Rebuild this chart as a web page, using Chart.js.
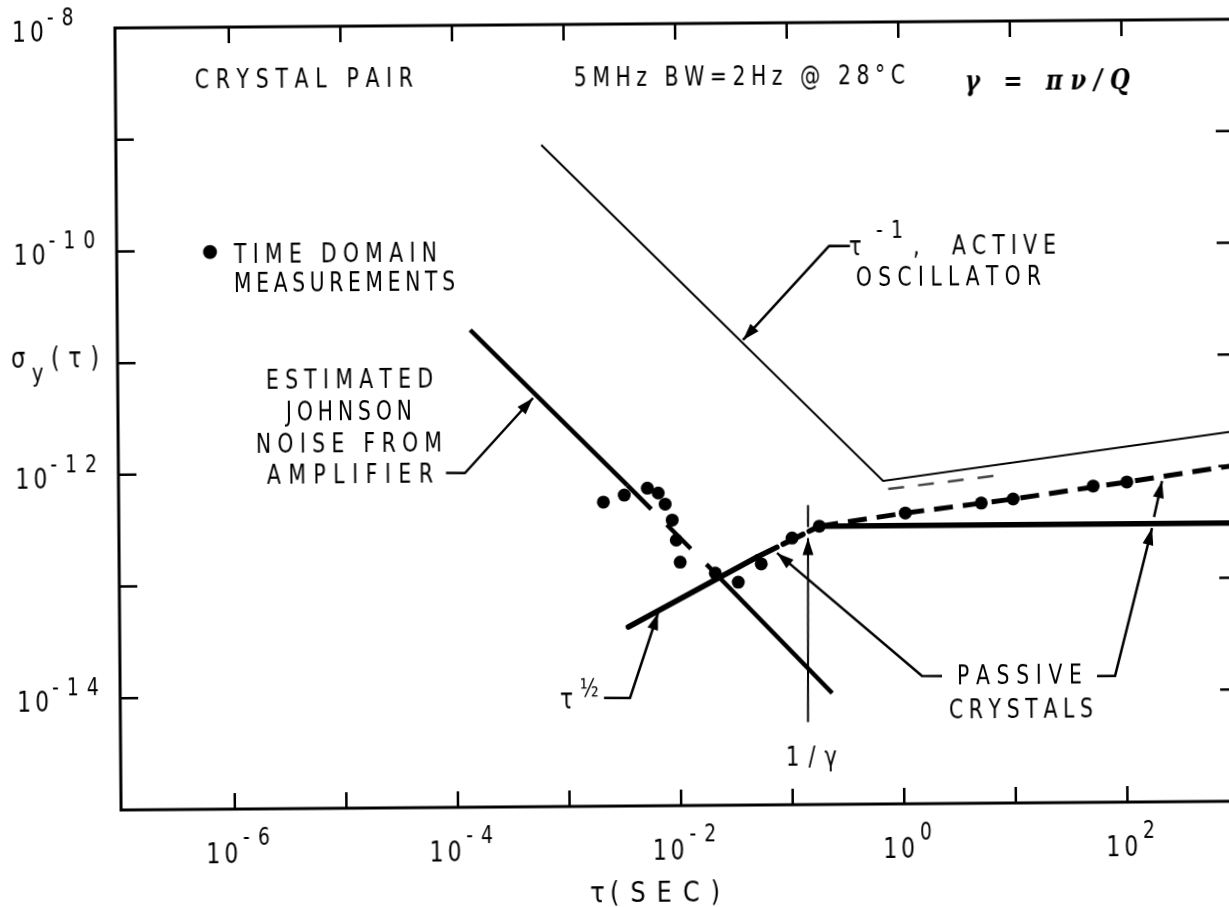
<!DOCTYPE html>
<html><head><meta charset="utf-8">
<script src="https://cdn.jsdelivr.net/npm/chart.js@4.4.0/dist/chart.umd.min.js"></script>
<style>
html,body{margin:0;padding:0;background:#fff;overflow:hidden;width:1229px;height:907px;}
#wrap{position:absolute;left:0;top:0;width:1260px;height:930px;transform-origin:118px 420px;transform:rotate(-0.45deg);}
canvas{display:block;}
</style></head><body>
<div id="wrap"><canvas id="c" width="1260" height="930"></canvas></div>
<script>
// ---------------- DATA (tau in seconds, sigma_y(tau)) ----------------
const activeTau   = [6.2e-4, 0.68, 1000];
const activeSigma = [8.4e-10, 7.8e-13, 2.06e-12];

const johnsonTau   = [1.39e-4, 3.46e-3, 2.01e-2, 0.23];
const johnsonSigma = [1.87e-11, 7.46e-13, 1.25e-13, 9.9e-15];

const sqrtTau   = [3.46e-3, 5.0e-2, 0.181];
const sqrtSigma = [4.0e-14, 1.66e-13, 3.1e-13];

const flatTau   = [0.181, 1000];
const flatSigma = [3.1e-13, 3.1e-13];

const passiveTau   = [0.181, 1.07, 9.93, 104, 1000];
const passiveSigma = [3.1e-13, 4.01e-13, 5.26e-13, 7.33e-13, 1.02e-12];

const erasedTau   = [0.755, 7.71];
const erasedSigma = [6.59e-13, 8.63e-13];

const measTau   = [2.11e-3, 3.25e-3, 5.24e-3, 6.55e-3, 7.55e-3, 8.71e-3, 9.44e-3, 1.02e-2,
                   2.10e-2, 3.37e-2, 5.43e-2, 0.103, 0.181, 1.07, 5.14, 9.93, 51.9, 104];
const measSigma = [5.27e-13, 6.07e-13, 6.98e-13, 6.30e-13, 5.01e-13, 3.60e-13, 2.38e-13, 1.51e-13,
                   1.20e-13, 9.9e-14, 1.44e-13, 2.44e-13, 3.10e-13, 4.01e-13, 4.86e-13, 5.26e-13, 6.78e-13, 7.33e-13];

const xTickExp  = [-6, -5, -4, -3, -2, -1, 0, 1, 2];
const xLabelExp = [-6, -4, -2, 0, 2];
const yTickExp  = [-14, -13, -12, -11, -10, -9];
const yLabelExp = [-8, -10, -12, -14];

const pts = (xs, ys) => xs.map((x, i) => ({x, y: ys[i]}));

// ---------------- helpers ----------------
const K = Math.tan(0.45 * Math.PI / 180), OX = 118, OY = 420;
function U(x, y) { return [x - (y - OY) * K, y + (x - OX) * K]; }
const FAM = "'DejaVu Sans', 'Noto Sans', sans-serif";
const TS = 26; // annotation text size

function txt(ctx, s, x, y, o) {
  o = o || {};
  const size = o.size || TS, sx = o.sx || 0.78;
  ctx.save();
  ctx.font = (o.style || '') + ' ' + size + 'px ' + (o.family || FAM);
  ctx.fillStyle = '#000'; ctx.textAlign = 'left'; ctx.textBaseline = 'alphabetic';
  const p = o.raw ? [x, y] : U(x, y);
  const chars = [...s];
  const ws = chars.map(c => ctx.measureText(c).width * sx);
  const tot = ws.reduce((a, b) => a + b, 0);
  const gap = (o.w != null && chars.length > 1) ? (o.w - tot) / (chars.length - 1) : (o.gap || 0);
  let cx = p[0];
  chars.forEach((c, i) => {
    ctx.save(); ctx.translate(cx, p[1]); ctx.scale(sx, 1); ctx.fillText(c, 0, 0); ctx.restore();
    cx += ws[i] + gap;
  });
  ctx.restore();
  return cx - gap - p[0];
}
function measure(ctx, s, size, sx, gap) {
  ctx.save(); ctx.font = size + 'px ' + FAM;
  const chars = [...s];
  const w = chars.reduce((a, c) => a + ctx.measureText(c).width * sx, 0) + gap * (chars.length - 1);
  ctx.restore(); return w;
}
function leader(ctx, list, head, lw) {
  const P = list.map(p => U(p[0], p[1]));
  ctx.save(); ctx.strokeStyle = '#000'; ctx.fillStyle = '#000';
  ctx.lineWidth = lw || 2.5; ctx.lineJoin = 'round'; ctx.lineCap = 'butt';
  ctx.beginPath(); ctx.moveTo(P[0][0], P[0][1]);
  for (let i = 1; i < P.length; i++) ctx.lineTo(P[i][0], P[i][1]);
  ctx.stroke();
  if (head) {
    const a = P[P.length - 2], b = P[P.length - 1];
    const ang = Math.atan2(b[1] - a[1], b[0] - a[0]);
    const L = 17, W = 5.5;
    ctx.beginPath(); ctx.moveTo(b[0], b[1]);
    ctx.lineTo(b[0] - L * Math.cos(ang) + W * Math.sin(ang), b[1] - L * Math.sin(ang) - W * Math.cos(ang));
    ctx.lineTo(b[0] - L * Math.cos(ang) - W * Math.sin(ang), b[1] - L * Math.sin(ang) + W * Math.cos(ang));
    ctx.closePath(); ctx.fill();
  }
  ctx.restore();
}

const annot = {
  id: 'annot',
  afterDraw(chart) {
    const ctx = chart.ctx, ca = chart.chartArea, xs = chart.scales.x, ys = chart.scales.y;
    ctx.save();
    // frame
    ctx.strokeStyle = '#000'; ctx.lineWidth = 3;
    ctx.strokeRect(ca.left, ca.top, ca.right - ca.left, ca.bottom - ca.top);
    // ticks
    ctx.lineWidth = 2.5;
    xTickExp.forEach(e => {
      const X = xs.getPixelForValue(Math.pow(10, e));
      ctx.beginPath(); ctx.moveTo(X, ca.bottom); ctx.lineTo(X, ca.bottom - 16);
      ctx.moveTo(X, ca.top); ctx.lineTo(X, ca.top + 16); ctx.stroke();
    });
    yTickExp.forEach(e => {
      const Y = ys.getPixelForValue(Math.pow(10, e));
      ctx.beginPath(); ctx.moveTo(ca.left, Y); ctx.lineTo(ca.left + 18, Y);
      ctx.moveTo(ca.right, Y); ctx.lineTo(ca.right - 18, Y); ctx.stroke();
    });
    ctx.restore();
    // tick labels
    xLabelExp.forEach(e => {
      const T = xs.getPixelForValue(Math.pow(10, e));
      const es = String(e);
      const w10 = measure(ctx, '10', 28, 0.78, 4), we = measure(ctx, es, 24, 0.78, 8);
      const left = T + 3 - (w10 + 5 + we) / 2;
      txt(ctx, '10', left, ca.bottom + 54, {raw: true, size: 28, gap: 4});
      txt(ctx, es, left + w10 + 5, ca.bottom + 36, {raw: true, size: 24, gap: 8});
    });
    yLabelExp.forEach(e => {
      const T = ys.getPixelForValue(Math.pow(10, e));
      txt(ctx, '10', ca.left - 103, T + 13, {raw: true, size: 28, gap: 4});
      txt(ctx, String(e), ca.left - 68, T - 3, {raw: true, size: 24, gap: 8});
    });
    // axis titles
    txt(ctx, 'σ', 11, 368, {size: 29});
    txt(ctx, 'y', 32, 382, {size: 25});
    txt(ctx, '(τ)', 51, 368, {size: 28, w: 48});
    txt(ctx, 'τ', 590, 902, {size: 29, sx: 0.85});
    txt(ctx, '(SEC)', 610, 902, {size: 28, sx: 0.85, w: 110});
    // texts
    txt(ctx, 'CRYSTAL PAIR', 195, 88, {w: 218});
    txt(ctx, '5MHz BW=2Hz @ 28°C', 574, 86, {w: 331});
    txt(ctx, 'γ = πν/Q', 965, 90, {w: 165, size: 27, style: 'italic bold', family: "'DejaVu Serif', serif", sx: 0.85});
    txt(ctx, 'TIME DOMAIN', 234, 263, {w: 203});
    txt(ctx, 'MEASUREMENTS', 234, 292, {w: 221});
    txt(ctx, 'ESTIMATED', 266, 389, {w: 167});
    txt(ctx, 'JOHNSON', 286, 421, {w: 126});
    txt(ctx, 'NOISE FROM', 256, 453, {w: 186});
    txt(ctx, 'AMPLIFIER', 267, 484, {w: 166});
    txt(ctx, 'τ', 849, 255, {size: 27});
    txt(ctx, '-1', 876, 238, {size: 24, w: 27});
    txt(ctx, ',', 913, 255, {size: 27});
    txt(ctx, 'ACTIVE', 952, 254, {w: 104});
    txt(ctx, 'OSCILLATOR', 856, 286, {w: 185});
    txt(ctx, 'PASSIVE', 957, 684, {w: 125});
    txt(ctx, 'CRYSTALS', 949, 718, {w: 144});
    txt(ctx, '1/γ', 786, 766, {size: 27, w: 51});
    txt(ctx, 'τ', 560, 709, {size: 28});
    txt(ctx, '½', 580, 696, {size: 25});
    // legend dot
    ctx.save(); ctx.fillStyle = '#000';
    const d = U(210, 252); ctx.beginPath(); ctx.arc(d[0], d[1], 7, 0, Math.PI * 2); ctx.fill();
    ctx.restore();
    // leaders and arrows
    leader(ctx, [[850, 246], [829, 246], [743, 340]], true);
    leader(ctx, [[446, 473], [465, 473], [533, 398]], true);
    leader(ctx, [[604, 698], [630, 698], [658, 613]], true);
    leader(ctx, [[942, 676], [922, 676], [777, 553]], true);
    leader(ctx, [[1097, 676], [1115, 676], [1152, 528]], true);
    leader(ctx, [[1154, 517], [1162, 481]], true);
    leader(ctx, [[808, 505], [808, 527]], false, 2);
    leader(ctx, [[808, 722], [808, 538]], true, 2);
  }
};

const black = '#000';
new Chart(document.getElementById('c').getContext('2d'), {
  type: 'scatter',
  data: {
    datasets: [
      {label: 'active', data: pts(activeTau, activeSigma), showLine: true, borderColor: black, borderWidth: 2, pointRadius: 0},
      {label: 'erased', data: pts(erasedTau, erasedSigma), showLine: true, borderColor: '#444', borderWidth: 2.5, borderDash: [16, 14], pointRadius: 0},
      {label: 'johnson', data: pts(johnsonTau, johnsonSigma), showLine: true, borderColor: black, borderWidth: 4.5, pointRadius: 0,
        segment: {borderDash: c => c.p0DataIndex === 1 ? [34, 22] : undefined}},
      {label: 'sqrt', data: pts(sqrtTau, sqrtSigma), showLine: true, borderColor: black, borderWidth: 5.5, pointRadius: 0, borderCapStyle: 'round',
        segment: {borderDash: c => c.p0DataIndex === 1 ? [22, 7] : undefined}},
      {label: 'flat', data: pts(flatTau, flatSigma), showLine: true, borderColor: black, borderWidth: 5.5, pointRadius: 0},
      {label: 'passive', data: pts(passiveTau, passiveSigma), showLine: true, borderColor: black, borderWidth: 5, borderDash: [19, 10], pointRadius: 0},
      {label: 'measurements', data: pts(measTau, measSigma), showLine: false, pointRadius: 6.5, pointBackgroundColor: black, pointBorderColor: black, pointBorderWidth: 0}
    ]
  },
  options: {
    responsive: false, animation: false, devicePixelRatio: 1,
    layout: {padding: {left: 118, right: 24, top: 28, bottom: 120}},
    plugins: {legend: {display: false}, tooltip: {enabled: false}},
    elements: {line: {tension: 0}},
    scales: {
      x: {type: 'logarithmic', min: Math.pow(10, -7.02), max: 1000, display: false},
      y: {type: 'logarithmic', min: 1e-15, max: 1e-8, display: false}
    }
  },
  plugins: [annot]
});
</script>
</body></html>
